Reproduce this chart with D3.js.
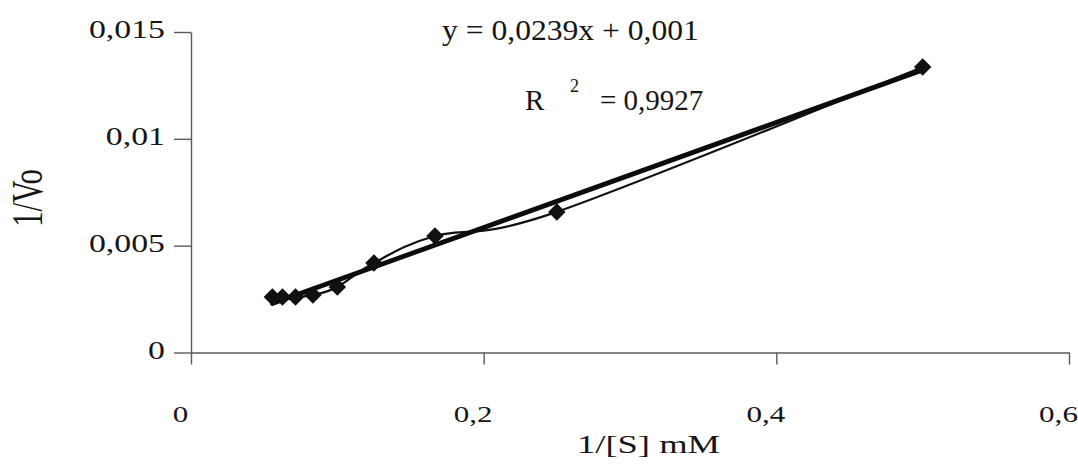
<!DOCTYPE html>
<html>
<head>
<meta charset="utf-8">
<script src="https://cdn.jsdelivr.net/npm/d3@7"></script>
<style>
  body { margin: 0; background: #fff; }
  svg text { font-family: "Liberation Serif", "Times New Roman", serif; fill: #161616; }
</style>
</head>
<body>
<svg id="chart"></svg>
<script>
// Lineweaver-Burk data
const invS = [0.0556, 0.0625, 0.0714, 0.0833, 0.1, 0.125, 0.1667, 0.25, 0.5];
const invV = [0.0026, 0.0026, 0.0026, 0.00269, 0.00307, 0.00419, 0.00545, 0.00658, 0.01336];

const xTicks = [0, 0.2, 0.4, 0.6];
const xTickLabels = ["0", "0,2", "0,4", "0,6"];
const yTicks = [0, 0.005, 0.01, 0.015];
const yTickLabels = ["0", "0,005", "0,01", "0,015"];

const eqText = "y = 0,0239x + 0,001";
const r2Value = "= 0,9927";

var svgWidth = 1078, svgHeight = 466;
var svg = d3.select('#chart').attr("width", svgWidth).attr("height", svgHeight);

var x = d3.scaleLinear().domain([0, 0.6]).range([191, 1069]);
var y = d3.scaleLinear().domain([0, 0.015]).range([352.5, 32]);

// the scan is wider than it is tall, so text gets stretched sideways
function stretch(sel, k) {
    sel.each(function () {
        var w = this.getComputedTextLength();
        d3.select(this).attr("textLength", w * k).attr("lengthAdjust", "spacingAndGlyphs");
    });
}

// axes
var yAxis = svg.append("g").attr("transform", "translate(" + x(0) + ",0)")
    .call(d3.axisLeft(y).tickValues(yTicks).tickSize(17).tickSizeOuter(0).tickPadding(9)
        .tickFormat((d, i) => yTickLabels[i]));
yAxis.selectAll("text").attr("font-size", 26).attr("dy", "0.22em");
stretch(yAxis.selectAll("text"), 1.3);

var xAxis = svg.append("g").attr("transform", "translate(0," + y(0) + ")")
    .call(d3.axisBottom(x).tickValues(xTicks).tickSize(12).tickSizeOuter(0).tickPadding(41)
        .tickFormat((d, i) => xTickLabels[i]));
xAxis.selectAll("text").attr("font-size", 23).attr("dx", -11);
stretch(xAxis.selectAll("text"), 1.35);

svg.selectAll(".domain, .tick line").attr("stroke", "#5a5a5a").attr("stroke-width", 1.4);
svg.selectAll(".tick text").style("font-family", '"Liberation Serif", serif').attr("fill", "#161616");

// linear trendline (least squares over the points, like the spreadsheet does)
var mx = d3.mean(invS), my = d3.mean(invV);
var sxy = d3.sum(invS, (v, i) => (v - mx) * (invV[i] - my));
var sxx = d3.sum(invS, v => (v - mx) * (v - mx));
var slope = sxy / sxx, icpt = my - slope * mx;
var xr = d3.extent(invS);
var trend = xr.map(v => ({ s: v, v: icpt + slope * v }));

var pts = invS.map((s, i) => ({ s: s, v: invV[i] }));

svg.append("path").datum(pts)
    .attr("fill", "none").attr("stroke", "#111").attr("stroke-width", 2.2)
    .attr("d", d3.line().x(d => x(d.s)).y(d => y(d.v)).curve(d3.curveCatmullRom.alpha(0)));

svg.append("path").datum(trend)
    .attr("fill", "none").attr("stroke", "#0c0c0c").attr("stroke-width", 4.8).attr("stroke-linecap", "round")
    .attr("d", d3.line().x(d => x(d.s)).y(d => y(d.v)));

svg.append("g").selectAll("path").data(pts).enter().append("path")
    .attr("transform", d => "translate(" + x(d.s) + "," + y(d.v) + ")")
    .attr("d", d3.symbol().type(d3.symbolDiamond2).size(150))
    .attr("fill", "#111").attr("stroke", "#111").attr("stroke-width", 1.5);

// equation + R squared
svg.append("text").attr("x", 442).attr("y", 40).attr("font-size", 29).text(eqText)
    .call(stretch, 1.09);
svg.append("text").attr("x", 525).attr("y", 110).attr("font-size", 29).text("R");
svg.append("text").attr("x", 570).attr("y", 92).attr("font-size", 18).text("2");
svg.append("text").attr("x", 600).attr("y", 110).attr("font-size", 29).text(r2Value);

// axis titles
svg.append("text").attr("x", 577).attr("y", 453).attr("font-size", 26).text("1/[S] mM")
    .call(sel => sel.attr("textLength", 143).attr("lengthAdjust", "spacingAndGlyphs"));

svg.append("text").attr("text-anchor", "middle").attr("font-size", 31)
    .attr("transform", "translate(42,198) rotate(-90) scale(1,1.4)")
    .text("1/Vo");
</script>
</body>
</html>
